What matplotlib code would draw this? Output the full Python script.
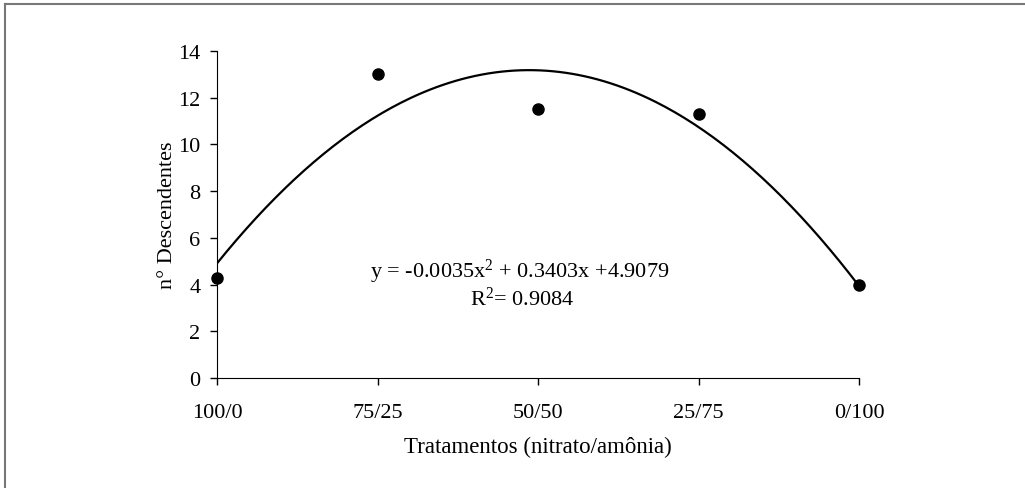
import matplotlib
matplotlib.use("Agg")
import matplotlib.pyplot as plt
import numpy as np
from matplotlib.lines import Line2D

plt.rcParams["font.family"] = ["Liberation Serif", "DejaVu Serif"]
plt.rcParams["mathtext.fontset"] = "custom"
plt.rcParams["mathtext.rm"] = "Liberation Serif"
plt.rcParams["mathtext.it"] = "Liberation Serif"

# treatments (nitrate/ammonium) and ammonium share used as x
treatments = ["100/0", "75/25", "50/50", "25/75", "0/100"]
ammonium = [0, 25, 50, 75, 100]
descendants = [4.3, 13.0, 11.5, 11.3, 4.0]

# quadratic trend line coefficients (a, b, c) as printed on the chart
coefs = [-0.0035, 0.3403, 4.9079]
r2 = 0.9084

fig = plt.figure(figsize=(10.25, 4.89), dpi=100)
ax = fig.add_axes([0.2117, 0.2249, 0.6264, 0.6688])

xs = np.linspace(0, 100, 200)
ax.plot(xs, np.polyval(coefs, xs), color="black", lw=1.6, zorder=2)
ax.plot(ammonium, descendants, "o", color="black", ms=8, zorder=3, clip_on=False)

ax.set_xlim(0, 100)
ax.set_ylim(0, 14)
ax.set_yticks(range(0, 15, 2))
ax.set_xticks(ammonium, treatments)
for side in ("top", "right"):
    ax.spines[side].set_visible(False)
ax.tick_params(axis="both", direction="out", length=5, width=1, labelsize=16)
ax.tick_params(axis="x", pad=13)
ax.tick_params(axis="y", pad=7)

ax.set_xlabel("Tratamentos (nitrato/amônia)", fontsize=16.5, labelpad=10)
ax.set_ylabel("n° Descendentes", fontsize=16)
ax.yaxis.set_label_coords(-0.062, 0.5)

eq = "y = %.4fx$^{2}$ + %.4fx +%.4f" % tuple(coefs)
ax.text(47.2, 4.35, eq, fontsize=16, ha="center", va="baseline")
ax.text(47.5, 3.15, "R$^{2}$= %.4f" % r2, fontsize=16, ha="center", va="baseline")

# scanned page frame
fig.add_artist(Line2D([0.005, 1.0], [0.99, 0.99], color="#777777", lw=1.5,
                      transform=fig.transFigure))
fig.add_artist(Line2D([0.005, 0.005], [0.0, 0.99], color="#777777", lw=1.5,
                      transform=fig.transFigure))

fig.savefig("out.png", dpi=100)
